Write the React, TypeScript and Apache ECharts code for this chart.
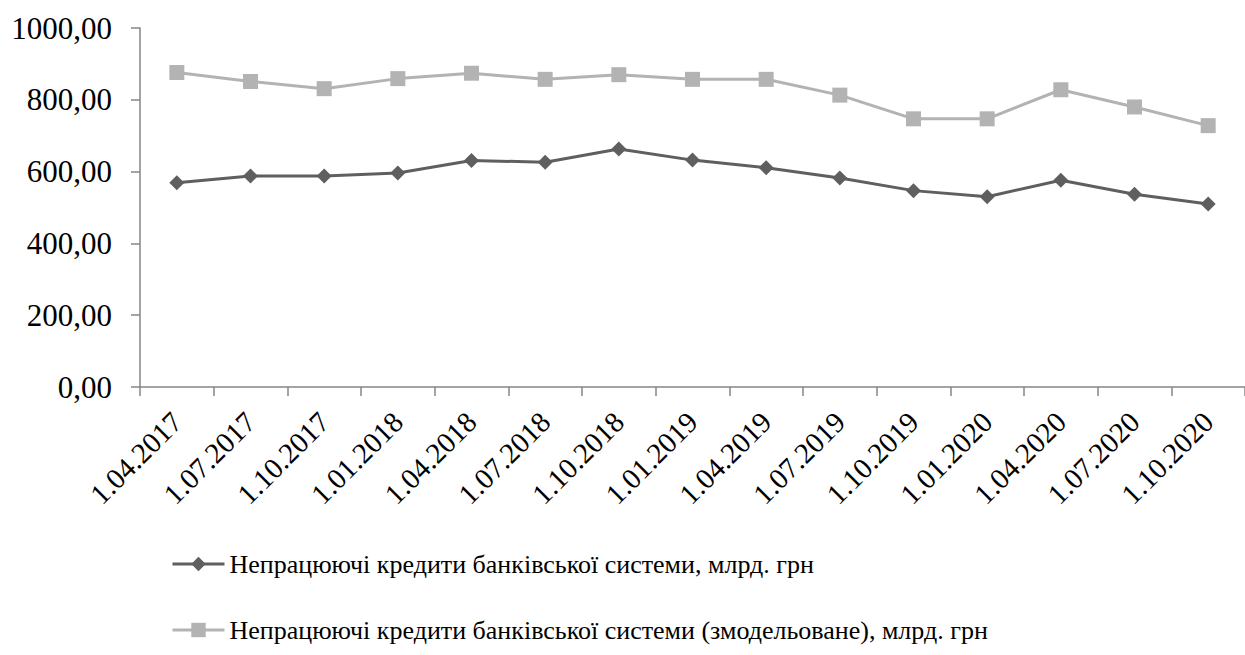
import React, { useEffect, useRef } from "react";
import * as echarts from "echarts";

const categories = [
  "1.04.2017", "1.07.2017", "1.10.2017", "1.01.2018", "1.04.2018",
  "1.07.2018", "1.10.2018", "1.01.2019", "1.04.2019", "1.07.2019",
  "1.10.2019", "1.01.2020", "1.04.2020", "1.07.2020", "1.10.2020",
];

const npl = [569, 588, 588, 596, 631, 626, 663, 632, 611, 582, 547, 530, 576, 537, 510];
const nplModelled = [876, 851, 831, 859, 874, 857, 870, 857, 857, 813, 747, 747, 828, 780, 728];

const nameNpl = "Непрацюючі кредити банківської системи, млрд. грн";
const nameModelled = "Непрацюючі кредити банківської системи (змодельоване), млрд. грн";

const FONT = "Liberation Serif";
const DARK = "#5f5f5f";
const LIGHT = "#b3b3b3";
const AXIS = "#868686";

export default function App() {
  const ref = useRef<HTMLDivElement>(null);

  useEffect(() => {
    if (!ref.current) return;
    const chart = echarts.init(ref.current, undefined, { renderer: "svg" });
    const legendBase = {
      left: 166,
      itemWidth: 52,
      itemHeight: 18,
      itemGap: 4,
      lineStyle: { width: 3 },
      textStyle: { color: "#000", fontFamily: FONT, fontSize: 26 },
    };
    chart.setOption({
      animation: false,
      backgroundColor: "#ffffff",
      textStyle: { fontFamily: FONT },
      grid: { left: 140, right: -8, top: 28, bottom: 268, containLabel: false },
      xAxis: {
        type: "category",
        data: categories,
        boundaryGap: true,
        axisLine: { lineStyle: { color: AXIS, width: 1.5 } },
        axisTick: { show: true, length: 9, lineStyle: { color: AXIS, width: 1.5 } },
        axisLabel: {
          rotate: 45,
          interval: 0,
          margin: 30,
          color: "#000",
          fontFamily: FONT,
          fontSize: 29,
        },
        splitLine: { show: false },
      },
      yAxis: {
        type: "value",
        min: 0,
        max: 1000,
        interval: 200,
        axisLine: { show: true, lineStyle: { color: AXIS, width: 1.5 } },
        axisTick: { show: true, length: 9, lineStyle: { color: AXIS, width: 1.5 } },
        axisLabel: {
          margin: 28,
          color: "#000",
          fontFamily: FONT,
          fontSize: 31,
          formatter: (v: number) => v.toFixed(2).replace(".", ","),
        },
        splitLine: { show: false },
      },
      legend: [
        { ...legendBase, data: [nameNpl], top: 546 },
        { ...legendBase, data: [nameModelled], top: 612 },
      ],
      series: [
        {
          name: nameNpl,
          type: "line",
          data: npl,
          symbol: "diamond",
          symbolSize: 15,
          color: DARK,
          lineStyle: { color: DARK, width: 3 },
          itemStyle: { color: DARK },
        },
        {
          name: nameModelled,
          type: "line",
          data: nplModelled,
          symbol: "rect",
          symbolSize: 15,
          color: LIGHT,
          lineStyle: { color: LIGHT, width: 3 },
          itemStyle: { color: LIGHT },
        },
      ],
    });
    return () => chart.dispose();
  }, []);

  return (
    <div
      ref={ref}
      style={{ position: "absolute", left: 0, top: 0, width: 1245, height: 655, overflow: "hidden" }}
    />
  );
}
